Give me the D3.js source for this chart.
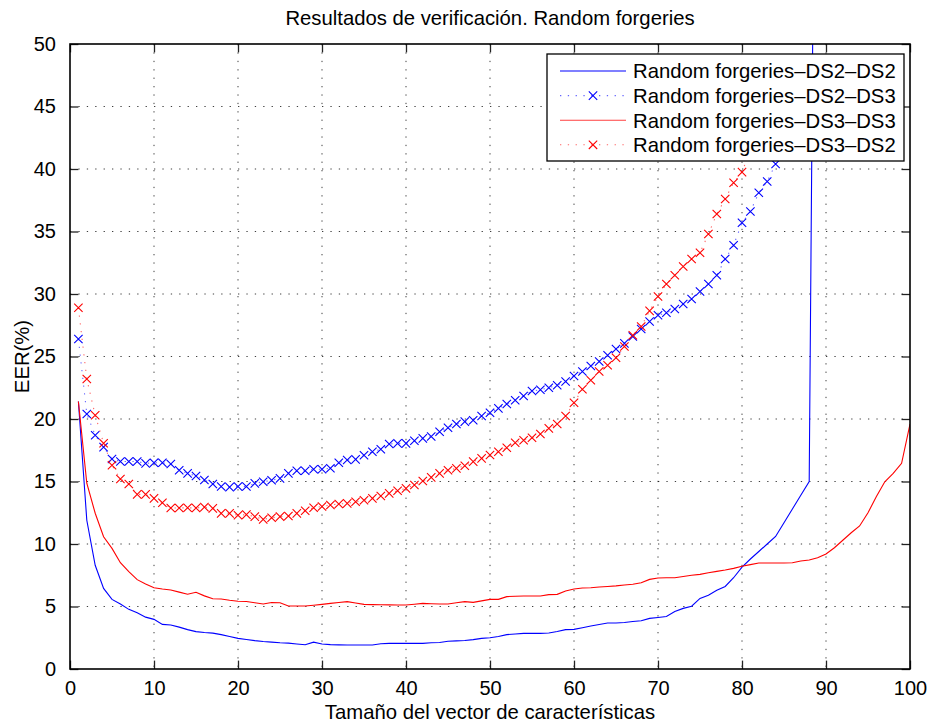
<!DOCTYPE html>
<html><head><meta charset="utf-8">
<script src="https://cdn.jsdelivr.net/npm/d3@7"></script>
<style>
body{margin:0;background:#fff}
svg{display:block}
text{font-family:"Liberation Sans",Arial,Helvetica,sans-serif;fill:#000}
</style>
</head><body>
<svg id="chart" width="930" height="724"></svg>
<script>
// ---- data ----
const featureSizes = [1,2,3,4,5,6,7,8,9,10,11,12,13,14,15,16,17,18,19,20,21,22,23,24,25,26,27,28,29,30,
31,32,33,34,35,36,37,38,39,40,41,42,43,44,45,46,47,48,49,50,51,52,53,54,55,56,57,58,59,60,
61,62,63,64,65,66,67,68,69,70,71,72,73,74,75,76,77,78,79,80,81,82,83,84,85,86,87,88,89,90,
91,92,93,94,95,96,97,98,99,100];

const ds2ds2 = [21.4,11.9,8.3,6.45,5.57,5.2,4.77,4.5,4.15,3.97,3.57,3.52,3.35,3.15,2.99,2.92,2.87,2.75,2.6,2.45,
2.36,2.27,2.2,2.15,2.1,2.07,2.0,1.94,2.15,2.0,1.95,1.93,1.92,1.92,1.92,1.92,2.02,2.05,2.05,2.05,
2.05,2.05,2.1,2.12,2.22,2.25,2.28,2.35,2.45,2.5,2.6,2.75,2.8,2.85,2.85,2.85,2.88,3.0,3.15,3.17,
3.3,3.44,3.56,3.68,3.68,3.72,3.8,3.86,4.05,4.12,4.2,4.6,4.85,5.02,5.65,5.9,6.3,6.6,7.3,8.15,
8.8,9.4,10.0,10.6,11.7,12.8,13.9,15.0,100];

const ds2ds3 = [26.4,20.4,18.7,17.75,16.8,16.6,16.6,16.6,16.45,16.5,16.5,16.4,15.9,15.65,15.44,15.12,14.8,14.6,14.55,14.6,
14.6,14.85,14.98,15.1,15.25,15.65,15.86,15.86,15.98,15.98,16.06,16.5,16.72,16.77,17.1,17.38,17.58,18.0,18.05,18.05,
18.26,18.45,18.6,18.98,19.3,19.6,19.79,19.9,20.24,20.5,20.85,21.2,21.5,21.84,22.24,22.34,22.5,22.7,23.0,23.44,
23.8,24.24,24.6,25.1,25.6,26.05,26.6,27.2,27.8,28.3,28.5,28.8,29.2,29.6,30.2,30.8,31.5,32.8,33.9,35.7,
36.6,38.1,39.0,40.4,41.8];

const ds3ds3 = [21.4,14.86,12.46,10.58,9.65,8.5,7.79,7.15,6.8,6.5,6.4,6.32,6.15,5.98,6.14,5.85,5.62,5.6,5.5,5.42,
5.4,5.3,5.2,5.32,5.3,5.04,5.04,5.04,5.1,5.17,5.25,5.32,5.39,5.28,5.17,5.15,5.14,5.13,5.12,5.12,
5.18,5.25,5.22,5.2,5.2,5.3,5.39,5.33,5.45,5.57,5.57,5.79,5.82,5.84,5.84,5.84,5.95,5.97,6.24,6.4,
6.48,6.5,6.56,6.6,6.65,6.72,6.78,6.9,7.17,7.28,7.3,7.3,7.4,7.5,7.57,7.7,7.81,7.92,8.05,8.22,
8.35,8.48,8.48,8.48,8.48,8.5,8.64,8.72,8.9,9.2,9.7,10.3,10.9,11.44,12.5,13.8,14.98,15.65,16.45,19.6];

const ds3ds2 = [28.9,23.2,20.3,18.06,16.3,15.2,14.8,13.97,13.97,13.65,13.3,12.88,12.88,12.9,12.88,12.95,12.85,12.45,12.45,12.3,
12.35,12.19,11.97,12.1,12.19,12.24,12.45,12.66,12.9,13.0,13.12,13.2,13.25,13.38,13.5,13.65,13.84,14.05,14.26,14.45,
14.72,15.04,15.33,15.65,15.9,16.05,16.26,16.59,16.85,17.12,17.38,17.7,18.1,18.3,18.5,18.8,19.25,19.6,20.24,21.3,
22.38,23.1,23.8,24.3,24.9,25.8,26.7,27.4,28.65,29.8,30.8,31.5,32.2,32.8,33.3,34.8,36.4,37.6,38.9,39.75,
41.5];

const seriesNames = ["Random forgeries\u2013DS2\u2013DS2","Random forgeries\u2013DS2\u2013DS3",
                     "Random forgeries\u2013DS3\u2013DS3","Random forgeries\u2013DS3\u2013DS2"];
const xTicks = [0,10,20,30,40,50,60,70,80,90,100];
const yTicks = [0,5,10,15,20,25,30,35,40,45,50];
const titleText = "Resultados de verificación. Random forgeries";
const xLabelText = "Tamaño del vector de características";
const yLabelText = "EER(%)";

// ---- layout ----
const L = 70, R = 910, T = 44, B = 669;
const FS = 20.3;
const svg = d3.select("#chart");
const x = d3.scaleLinear().domain([0,100]).range([L,R]);
const y = d3.scaleLinear().domain([0,50]).range([B,T]);

const series = [
  {name: seriesNames[0], values: ds2ds2, color: "#0000ff", dotted: false, marker: false},
  {name: seriesNames[1], values: ds2ds3, color: "#0000ff", dotted: true, marker: true},
  {name: seriesNames[2], values: ds3ds3, color: "#ff0000", dotted: false, marker: false},
  {name: seriesNames[3], values: ds3ds2, color: "#ff0000", dotted: true, marker: true}
];

svg.append("defs").append("clipPath").attr("id","plotclip")
  .append("rect").attr("x",L).attr("y",T).attr("width",R-L).attr("height",B-T);

// grid
const grid = svg.append("g");
grid.selectAll("line.gx").data(xTicks.slice(1,-1)).enter().append("line")
  .attr("x1",d=>x(d)).attr("x2",d=>x(d)).attr("y1",T).attr("y2",B)
  .attr("stroke","#000").attr("stroke-width",1).attr("stroke-dasharray","1.3,7.1").attr("opacity",0.75);
grid.selectAll("line.gy").data(yTicks.slice(1,-1)).enter().append("line")
  .attr("y1",d=>y(d)).attr("y2",d=>y(d)).attr("x1",L).attr("x2",R)
  .attr("stroke","#000").attr("stroke-width",1).attr("stroke-dasharray","1.3,7.1").attr("opacity",0.75);

// series
const plot = svg.append("g").attr("clip-path","url(#plotclip)");
const line = d3.line().x((d,i)=>x(featureSizes[i])).y(d=>y(d));
const ms = 4.2;
series.forEach(s => {
  plot.append("path").datum(s.values).attr("d",line)
    .attr("fill","none").attr("stroke",s.color).attr("stroke-width",1.1)
    .attr("stroke-dasharray", s.dotted ? "1.3,6.5" : null)
    .attr("opacity", s.dotted ? 0.6 : 1);
  if (s.marker) {
    plot.append("g").selectAll("path").data(s.values).enter().append("path")
      .attr("transform",(d,i)=>`translate(${x(featureSizes[i])},${y(d)})`)
      .attr("d",`M${-ms},${-ms}L${ms},${ms}M${-ms},${ms}L${ms},${-ms}`)
      .attr("stroke",s.color).attr("stroke-width",1.1).attr("fill","none");
  }
});

// axes box and ticks (MATLAB style, inward, all sides)
const tl = 8.4;
const ax = svg.append("g");
const xAxB = d3.axisBottom(x).tickValues(xTicks).tickSize(-tl).tickFormat(d3.format("d")).tickPadding(12);
const xAxT = d3.axisTop(x).tickValues(xTicks).tickSize(-tl).tickFormat("");
const yAxL = d3.axisLeft(y).tickValues(yTicks).tickSize(-tl).tickFormat(d3.format("d")).tickPadding(14);
const yAxR = d3.axisRight(y).tickValues(yTicks).tickSize(-tl).tickFormat("");
const gB = ax.append("g").attr("transform",`translate(0,${B})`).call(xAxB);
const gT = ax.append("g").attr("transform",`translate(0,${T})`).call(xAxT);
const gL = ax.append("g").attr("transform",`translate(${L},0)`).call(yAxL);
const gR = ax.append("g").attr("transform",`translate(${R},0)`).call(yAxR);
[gB,gT,gL,gR].forEach(g=>{
  g.select(".domain").remove();
  g.selectAll(".tick line").attr("stroke","#222").attr("stroke-width",1.3);
  g.selectAll("text").attr("font-size",FS-0.3).attr("font-family","Liberation Sans, Arial, sans-serif").attr("fill","#000");
});
ax.append("rect").attr("x",L).attr("y",T).attr("width",R-L).attr("height",B-T)
  .attr("fill","none").attr("stroke","#000").attr("stroke-width",1.6);

// legend
const lg = svg.append("g");
const lx0 = 547, ly0 = 54, lw = 357, lh = 107;
lg.append("rect").attr("x",lx0).attr("y",ly0).attr("width",lw).attr("height",lh)
  .attr("fill","#fff").attr("stroke","#000").attr("stroke-width",1.3);
series.forEach((s,i)=>{
  const yy = 71 + i*24.6;
  lg.append("line").attr("x1",560).attr("x2",626).attr("y1",yy).attr("y2",yy)
    .attr("stroke",s.color).attr("stroke-width",1.1)
    .attr("stroke-dasharray", s.dotted ? "1.3,6.5" : null)
    .attr("opacity", s.dotted ? 0.6 : (i===2?0.75:1));
  if (s.marker) {
    lg.append("path").attr("transform",`translate(593,${yy})`)
      .attr("d",`M${-ms},${-ms}L${ms},${ms}M${-ms},${ms}L${ms},${-ms}`)
      .attr("stroke",s.color).attr("stroke-width",1.1);
  }
  lg.append("text").attr("x",633).attr("y",yy).attr("dy","0.36em")
    .attr("font-size",FS).text(s.name);
});

// titles
svg.append("text").attr("x",(L+R)/2).attr("y",25).attr("text-anchor","middle")
  .attr("font-size",FS).text(titleText);
svg.append("text").attr("x",(L+R)/2).attr("y",719).attr("text-anchor","middle")
  .attr("font-size",FS).text(xLabelText);
svg.append("text").attr("transform",`translate(29,${(T+B)/2}) rotate(-90)`)
  .attr("text-anchor","middle").attr("font-size",FS).text(yLabelText);
</script>
</body></html>
